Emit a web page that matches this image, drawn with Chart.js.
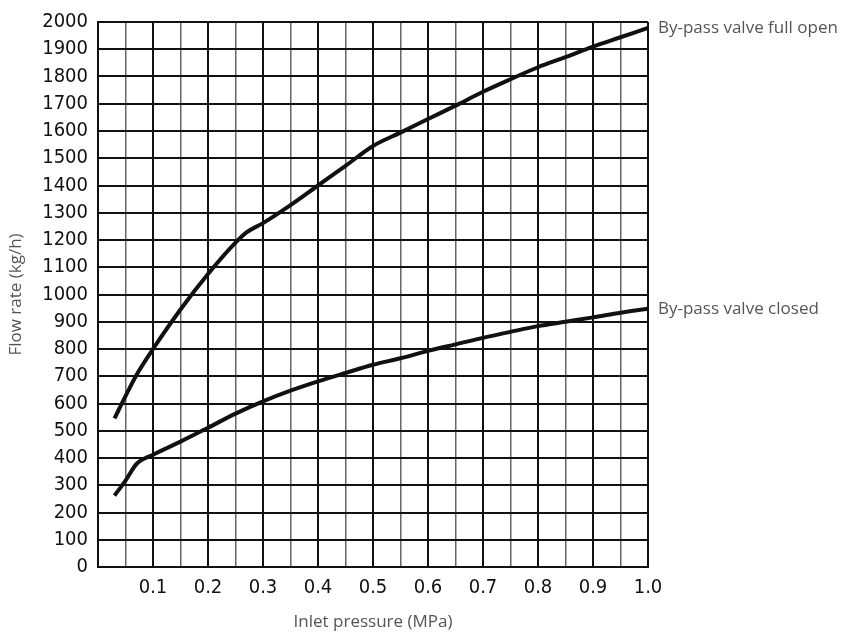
<!DOCTYPE html>
<html>
<head>
<meta charset="utf-8">
<script src="https://cdn.jsdelivr.net/npm/chart.js@4.4.1/dist/chart.umd.min.js"></script>
<style>
  html, body { margin: 0; padding: 0; background: #fff; }
  #wrap { width: 846px; height: 636px; position: relative; }
</style>
</head>
<body>
<div id="wrap"><canvas id="myChart"></canvas></div>
<script>
// values
const pressureOpen = [0.03, 0.05, 0.07, 0.1, 0.15, 0.2, 0.25, 0.27, 0.3, 0.35, 0.4, 0.45, 0.5, 0.55, 0.6, 0.65, 0.7, 0.75, 0.8, 0.85, 0.9, 0.95, 1.0];
const flowOpen = [545, 627, 705, 800, 945, 1075, 1190, 1228, 1262, 1328, 1400, 1472, 1545, 1594, 1644, 1693, 1744, 1790, 1834, 1871, 1910, 1944, 1978];

const pressureClosed = [0.03, 0.05, 0.07, 0.1, 0.15, 0.2, 0.25, 0.3, 0.35, 0.4, 0.45, 0.5, 0.55, 0.6, 0.65, 0.7, 0.75, 0.8, 0.85, 0.9, 0.95, 1.0];
const flowClosed = [262, 317, 378, 412, 460, 511, 563, 608, 647, 681, 712, 742, 766, 793, 817, 841, 863, 884, 900, 916, 933, 948];

const seriesNames = ['By-pass valve full open', 'By-pass valve closed'];

const toPoints = (xs, ys) => xs.map((x, i) => ({ x: x, y: ys[i] }));

// labels at the right end of each curve
const endLabels = {
    id: 'endLabels',
    afterDatasetsDraw(chart) {
        const { ctx, chartArea, scales } = chart;
        ctx.save();
        ctx.font = '17px "Open Sans"';
        ctx.fillStyle = '#555';
        ctx.textAlign = 'left';
        ctx.textBaseline = 'middle';
        chart.data.datasets.forEach(ds => {
            const last = ds.data[ds.data.length - 1];
            ctx.fillText(ds.label, chartArea.right + 10, scales.y.getPixelForValue(last.y));
        });
        ctx.restore();
    }
};

const isMajor = v => Math.round(v * 100) % 10 === 0;

new Chart(document.getElementById('myChart'), {
    type: 'line',
    data: {
        datasets: [{
            label: seriesNames[0],
            data: toPoints(pressureOpen, flowOpen),
            borderColor: '#111',
            borderWidth: 4,
            pointRadius: 0,
            cubicInterpolationMode: 'monotone'
        }, {
            label: seriesNames[1],
            data: toPoints(pressureClosed, flowClosed),
            borderColor: '#111',
            borderWidth: 4,
            pointRadius: 0,
            cubicInterpolationMode: 'monotone'
        }]
    },
    options: {
        responsive: true,
        maintainAspectRatio: false,
        animation: false,
        layout: { padding: { left: 0, right: 198, top: 18, bottom: 0 } },
        plugins: {
            legend: { display: false },
            tooltip: { enabled: false }
        },
        scales: {
            x: {
                type: 'linear',
                min: 0,
                max: 1,
                afterFit: scale => { scale.height = 69; },
                ticks: {
                    stepSize: 0.05,
                    autoSkip: false,
                    maxRotation: 0,
                    padding: 9,
                    color: '#111',
                    font: { family: '"DejaVu Sans Condensed"', size: 20 },
                    callback: v => (isMajor(v) && v > 0) ? v.toFixed(1) : ''
                },
                grid: {
                    drawTicks: false,
                    color: ctx => isMajor(ctx.tick.value) ? '#111' : '#666',
                    lineWidth: ctx => isMajor(ctx.tick.value) ? 2 : 1.5
                },
                border: { display: true, color: '#111', width: 2 },
                title: {
                    display: true,
                    text: 'Inlet pressure (MPa)',
                    color: '#555',
                    font: { family: '"Open Sans"', size: 17 },
                    padding: { top: 0, bottom: 4 }
                }
            },
            y: {
                min: 0,
                max: 2000,
                afterFit: scale => { scale.width = 98; },
                ticks: {
                    stepSize: 100,
                    autoSkip: false,
                    padding: 10,
                    color: '#111',
                    font: { family: '"DejaVu Sans Condensed"', size: 20 },
                    callback: v => String(v)
                },
                grid: {
                    drawTicks: false,
                    color: '#111',
                    lineWidth: 2
                },
                border: { display: true, color: '#111', width: 2 },
                title: {
                    display: true,
                    text: 'Flow rate (kg/h)',
                    color: '#555',
                    font: { family: '"Open Sans"', size: 17 },
                    padding: { top: 6, bottom: 0 }
                }
            }
        }
    },
    plugins: [endLabels]
});
</script>
</body>
</html>
